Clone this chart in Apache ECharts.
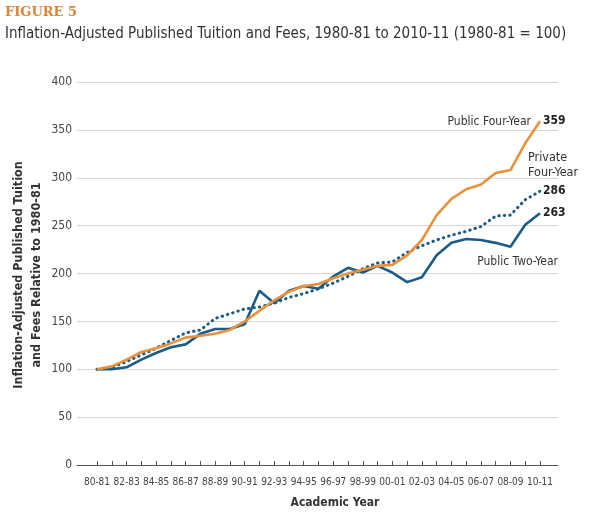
<!DOCTYPE html>
<html>
<head>
<meta charset="utf-8">
<script src="https://cdn.jsdelivr.net/npm/echarts@6/dist/echarts.min.js"></script>
<style>html,body{margin:0;padding:0;background:#fff;}#c{width:590px;height:524px;}</style>
</head>
<body>
<div id="c"></div>
<script>
const categories = ['80-81','81-82','82-83','83-84','84-85','85-86','86-87','87-88','88-89','89-90','90-91','91-92','92-93','93-94','94-95','95-96','96-97','97-98','98-99','99-00','00-01','01-02','02-03','03-04','04-05','05-06','06-07','07-08','08-09','09-10','10-11'];
const publicFourYear = [100,103,110,118,122,127,133,135,137,141,150,161,172,181,187,189,195,200,204,208,209,219,235,261,278,288,293,305,308,336,359];
const privateFourYear = [100,102,108,115,122,130,138,141,153,158,163,165,169,175,179,184,190,197,205,211,212,222,229,235,240,244,249,260,261,277,286];
const publicTwoYear = [100,100,102,110,117,123,126,137,142,142,147,182,169,182,187,184,197,206,201,208,201,191,196,219,232,236,235,232,228,251,263];
const yTicks = [0,50,100,150,200,250,300,350,400];

const NARROW = '"DejaVu Sans Condensed","Liberation Sans Narrow",sans-serif';
const ORANGE = '#E8923D';
const BLUE = '#1B5B87';

const chart = echarts.init(document.getElementById('c'), null, {renderer:'canvas'});
const endLabel = {
  show: true, formatter: p => String(p.value), fontFamily: NARROW, fontWeight: 'bold',
  fontSize: 12, color: '#222', distance: 3
};
chart.setOption({
  animation: false,
  backgroundColor: '#fff',
  grid: [
    {left: 77, right: 32, top: 82, bottom: 59},
    {left: 97, right: 50, top: 82, bottom: 59}
  ],
  xAxis: [
    {gridIndex: 0, type: 'value', min: 0, max: 1, axisLabel: {show: false}, axisTick: {show: false},
     splitLine: {show: false}, axisLine: {show: true, lineStyle: {color: '#555', width: 1}}},
    {gridIndex: 1, type: 'category', data: categories, boundaryGap: false,
     axisLine: {show: false},
     axisTick: {show: true, inside: true, length: 4, interval: 0, alignWithLabel: true, lineStyle: {color: '#555'}},
     axisLabel: {interval: 1, fontFamily: NARROW, fontSize: 10, color: '#444', margin: 12},
     splitLine: {show: false}}
  ],
  yAxis: [
    {gridIndex: 0, type: 'value', min: 0, max: 400, interval: 50,
     axisLine: {show: false}, axisTick: {show: false},
     axisLabel: {fontFamily: NARROW, fontSize: 12, color: '#444', margin: 5},
     splitLine: {show: true, lineStyle: {color: '#d6d6d6', width: 1}}},
    {gridIndex: 1, type: 'value', min: 0, max: 400, interval: 50, show: false, splitLine: {show: false}}
  ],
  series: [
    {name: 'Private Four-Year', type: 'line', xAxisIndex: 1, yAxisIndex: 1, data: privateFourYear,
     symbol: 'none', lineStyle: {color: BLUE, width: 3, type: [0.5, 5], cap: 'round'}, endLabel: endLabel, z: 2},
    {name: 'Public Two-Year', type: 'line', xAxisIndex: 1, yAxisIndex: 1, data: publicTwoYear,
     symbol: 'none', lineStyle: {color: BLUE, width: 2.6}, endLabel: endLabel, z: 3},
    {name: 'Public Four-Year', type: 'line', xAxisIndex: 1, yAxisIndex: 1, data: publicFourYear,
     symbol: 'none', lineStyle: {color: ORANGE, width: 2.6}, endLabel: endLabel, z: 4}
  ],
  graphic: [
    {type: 'text', left: 5, top: 6, style: {text: 'FIGURE 5', font: 'bold 13px "DejaVu Serif", serif', fill: '#DD8433'}},
    {type: 'text', left: 5, top: 27, style: {text: 'Inflation-Adjusted Published Tuition and Fees, 1980-81 to 2010-11 (1980-81 = 100)', font: '15px ' + NARROW, fill: '#333'}},
    {type: 'text', x: 28, y: 275, rotation: Math.PI / 2,
     style: {text: 'Inflation-Adjusted Published Tuition\nand Fees Relative to 1980-81', font: 'bold 12.5px ' + NARROW,
             fill: '#333', textAlign: 'center', textVerticalAlign: 'middle', lineHeight: 18}},
    {type: 'text', x: 335, y: 503, style: {text: 'Academic Year', font: 'bold 12px ' + NARROW, fill: '#333', textAlign: 'center', textVerticalAlign: 'middle'}},
    {type: 'text', x: 531, y: 122, style: {text: 'Public Four-Year', font: '12px ' + NARROW, fill: '#333', textAlign: 'right', textVerticalAlign: 'middle'}},
    {type: 'text', x: 518, y: 150, style: {text: 'Private\nFour-Year', font: '12.5px ' + NARROW, fill: '#333', textAlign: 'left', lineHeight: 15,
      backgroundColor: '#fff', padding: [0, 0, 0, 10]}},
    {type: 'text', x: 558, y: 262, style: {text: 'Public Two-Year', font: '12px ' + NARROW, fill: '#333', textAlign: 'right', textVerticalAlign: 'middle'}}
  ]
});
</script>
</body>
</html>
